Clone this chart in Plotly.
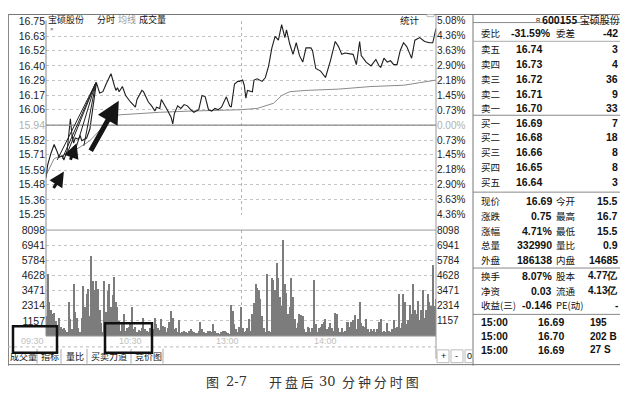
import plotly.graph_objects as go

OFF = 8  # default page body margin around the figure
W, H = 628 - 2 * OFF, 402 - 2 * OFF
pre_close = 15.94

# price axis (left) and percent axis (right)
price_ticks = [16.75, 16.63, 16.52, 16.40, 16.29, 16.17, 16.06, 15.94,
               15.82, 15.71, 15.59, 15.48, 15.36, 15.25]
pct_ticks = [5.08, 4.36, 3.63, 2.90, 2.18, 1.45, 0.73, 0.00,
             -0.73, -1.45, -2.18, -2.90, -3.63, -4.36]
vol_ticks = [1157, 2314, 3471, 4628, 5784, 6941, 8098]
time_minutes = [0, 60, 120, 180]
time_labels = ["09:30", "10:30", "13:00", "14:00"]

# minute line (minute index, price)
price_min = [0, 1, 3, 5, 7, 8, 10, 11, 13, 15, 16, 17, 18, 20, 21, 22, 25, 27, 29, 31,
             33, 35, 37, 40, 42, 43, 44, 45, 47, 49, 52, 55, 56, 59, 60, 62, 63, 65, 67, 68,
             70, 71, 73, 75, 77, 78, 79, 81, 83, 85, 87, 89, 91, 94, 96, 98, 100, 102, 104, 106,
             108, 111, 113, 114, 116, 118, 119, 121, 122, 123, 124, 127, 128, 130, 133, 135, 137, 139, 141, 143,
             145, 147, 148, 150, 152, 154, 156, 158, 160, 163, 164, 166, 169, 171, 172, 175, 178, 180, 182, 184,
             189, 191, 193, 194, 197, 200, 202, 203, 205, 206, 208, 210, 212, 214, 216, 218, 220, 222, 224, 225,
             227, 230, 233, 236, 238, 240]
price_val = [15.53, 15.63, 15.72, 15.79, 15.73, 15.69, 15.70, 15.67, 15.74, 15.99, 15.86, 15.80, 15.84, 15.83, 15.86, 15.82, 15.84, 15.91, 16.09, 16.27,
             16.19, 16.20, 16.26, 16.34, 16.25, 16.21, 16.23, 16.20, 16.24, 16.17, 16.12, 16.08, 16.14, 16.21, 16.20, 16.14, 16.12, 16.09, 16.05, 16.08,
             16.07, 16.14, 16.10, 16.05, 16.00, 15.95, 16.03, 16.09, 16.07, 16.10, 16.09, 16.06, 16.04, 16.06, 16.17, 16.16, 16.06, 16.05, 16.07, 16.06,
             16.08, 16.16, 16.09, 16.08, 16.26, 16.28, 16.28, 16.29, 16.25, 16.15, 16.21, 16.20, 16.29, 16.30, 16.28, 16.31, 16.40, 16.54, 16.63, 16.60,
             16.72, 16.62, 16.68, 16.57, 16.49, 16.58, 16.48, 16.43, 16.54, 16.54, 16.52, 16.38, 16.36, 16.33, 16.31, 16.44, 16.59, 16.55, 16.49, 16.50,
             16.49, 16.41, 16.59, 16.48, 16.43, 16.40, 16.44, 16.45, 16.40, 16.39, 16.46, 16.43, 16.44, 16.41, 16.41, 16.52, 16.58, 16.55, 16.49, 16.46,
             16.60, 16.62, 16.59, 16.58, 16.58, 16.69]

# average price line
avg_min = [0, 5, 15, 21, 27, 34, 40, 45, 55, 70, 90, 120, 130, 140, 145, 150, 160, 180, 200, 220, 230, 240]
avg_val = [15.55, 15.68, 15.73, 15.77, 15.82, 15.91, 15.99, 16.02, 16.03, 16.04, 16.05, 16.06, 16.07, 16.11, 16.17, 16.20, 16.21, 16.22, 16.24, 16.25, 16.27, 16.29]

# volume per minute
volume = [1500, 4700, 2600, 2000, 1700, 1750, 1150, 800, 1400, 700,
          500, 600, 450, 300, 2600, 1300, 500, 3950, 1800, 1400,
          600, 300, 1400, 3800, 2250, 3200, 3600, 1500, 6100, 4200,
          3500, 4200, 3600, 2000, 1000, 300, 4200, 1800, 3400, 3980,
          2250, 3100, 4520, 2570, 2250, 1150, 400, 900, 1690, 400,
          600, 700, 1100, 2250, 500, 700, 300, 450, 400, 600,
          1400, 500, 400, 300, 600, 700, 500, 1400, 900, 600,
          450, 1330, 800, 700, 300, 600, 1100, 1900, 1400, 500,
          600, 300, 1200, 250, 300, 400, 300, 200, 350, 500,
          400, 300, 250, 200, 400, 1100, 500, 300, 250, 200,
          350, 400, 300, 950, 400, 250, 200, 150, 300, 400,
          350, 300, 200, 150, 2330, 1900, 900, 500, 300, 700,
          2250, 600, 300, 400, 600, 1300, 400, 1690, 2500, 3960,
          3700, 3500, 2800, 1500, 600, 300, 4710, 400, 300, 4460,
          4290, 3500, 5600, 4460, 3000, 2300, 7370, 3960, 3300, 1690,
          2200, 4460, 3000, 1300, 600, 1000, 1690, 1600, 1500, 500,
          300, 700, 600, 300, 600, 4290, 900, 300, 600, 700,
          900, 1100, 1330, 500, 700, 1000, 600, 400, 1740, 1700,
          600, 300, 600, 300, 400, 1100, 1100, 700, 1100, 1200,
          1590, 500, 1300, 2570, 1000, 800, 700, 1330, 500, 300,
          500, 400, 500, 300, 500, 1100, 1300, 300, 400, 300,
          1000, 400, 300, 500, 1200, 600, 700, 3200, 600, 1000,
          3200, 2600, 900, 1200, 2330, 1690, 3960, 2000, 1690, 2700,
          1200, 2000, 3500, 1400, 2000, 3200, 2600, 2300, 5400, 2300,
          2800]

# hand drawn arrows on the chart: (tail minute, tail price, head minute, head price, width)
arrows = [(4.1, 15.44, 11, 15.58, 3), (14.7, 15.66, 18.8, 15.80, 3), (27, 15.73, 44.8, 16.13, 5)]
fan_from = [(6.9, 15.67), (10, 15.68), (13, 15.72), (18.4, 15.76), (23.3, 15.78)]
fan_to = (30.7, 16.27)

# quote panel
ask_labels = ["卖五", "卖四", "卖三", "卖二", "卖一"]
ask_prices = ["16.74", "16.73", "16.72", "16.71", "16.70"]
ask_vols = ["3", "4", "36", "9", "33"]
bid_labels = ["买一", "买二", "买三", "买四", "买五"]
bid_prices = ["16.69", "16.68", "16.66", "16.65", "16.64"]
bid_vols = ["7", "18", "8", "8", "3"]
stat_labels1 = ["现价", "涨跌", "涨幅", "总量", "外盘"]
stat_vals1 = ["16.69", "0.75", "4.71%", "332990", "186138"]
stat_labels2 = ["今开", "最高", "最低", "量比", "内盘"]
stat_vals2 = ["15.5", "16.7", "15.5", "0.9", "14685"]
fin_labels1 = ["换手", "净资", "收益(三)"]
fin_vals1 = ["8.07%", "0.03", "-0.146"]
fin_labels2 = ["股本", "流通", "PE(动)"]
fin_vals2 = ["4.77亿", "4.13亿", "-"]
tick_times = ["15:00", "15:00", "15:00"]
tick_prices = ["16.69", "16.70", "16.69"]
tick_vols = ["195", "202 B", "27 S"]
tabs = ["成交量", "指标", "量比", "买卖力道", "竞价图"]

NUM = "Liberation Sans, Arial, sans-serif"
CJK = "Noto Sans CJK SC, sans-serif"
RIGHT = 619  # right edge of the quote panel text


def fx(x):
    return (x - OFF) / W


def fy(y, floor=14.0):
    # target pixel rows, nudged to fit the page margin
    yy = max(1.0147 * y - 5.5, floor)
    return 1 - (yy - OFF) / H


fig = go.Figure()
fig.add_trace(go.Bar(x=list(range(len(volume))), y=volume, width=0.75,
                     marker=dict(color="#7c7c7c", line=dict(width=0)),
                     xaxis="x", yaxis="y2", showlegend=False, hoverinfo="skip"))
fig.add_trace(go.Scatter(x=avg_min, y=avg_val, mode="lines", line=dict(color="#8a8a8a", width=1),
                         xaxis="x", yaxis="y", showlegend=False, hoverinfo="skip"))
fig.add_trace(go.Scatter(x=price_min, y=price_val, mode="lines", line=dict(color="#1e1e1e", width=1.1),
                         xaxis="x", yaxis="y", showlegend=False, hoverinfo="skip"))

price_range = [15.244, 16.752]
pct_range = [(p / pre_close - 1) * 100 for p in price_range]

# dummy traces so the right-hand axes get drawn
fig.add_trace(go.Scatter(x=[0, 240], y=pct_range, mode="lines", line=dict(width=0), opacity=0,
                         xaxis="x", yaxis="y3", showlegend=False, hoverinfo="skip"))
fig.add_trace(go.Scatter(x=[0, 240], y=[0, 8098], mode="lines", line=dict(width=0), opacity=0,
                         xaxis="x", yaxis="y4", showlegend=False, hoverinfo="skip"))

x_dom = [fx(46), fx(436)]
price_dom = [fy(217), fy(20)]
vol_dom = [fy(340), fy(232.5)]

price_text = [f"{v:.2f}" if v != pre_close else f"<span style='color:#b0b0b0'>{v:.2f}</span>" for v in price_ticks]
pct_text = [f"{abs(v):.2f}%" if v != 0 else "<span style='color:#b0b0b0'>0.00%</span>" for v in pct_ticks]
tick_font = dict(family=NUM, size=10.5, color="#222")
grid = dict(gridcolor="#c4c4c4", griddash="dot", gridwidth=1, zeroline=False)

fig.update_layout(
    width=W, height=H, margin=dict(l=0, r=0, t=0, b=0),
    paper_bgcolor="white", plot_bgcolor="white", bargap=0,
    xaxis=dict(domain=x_dom, range=[0, 240], anchor="y2", showticklabels=False, ticks="",
               tickvals=[120], showgrid=True, gridcolor="#b5b5b5", griddash="dot", zeroline=False),
    yaxis=dict(domain=price_dom, range=price_range,
               tickvals=price_ticks, ticktext=price_text, tickfont=tick_font, anchor="x", ticks="", **grid),
    yaxis3=dict(overlaying="y", side="right", range=pct_range, tickvals=pct_ticks, ticktext=pct_text,
                tickfont=dict(family=NUM, size=10, color="#222"), anchor="x", showgrid=False, zeroline=False, ticks=""),
    yaxis2=dict(domain=vol_dom, range=[0, 8098], tickvals=vol_ticks, ticktext=[str(v) for v in vol_ticks],
                tickfont=tick_font, anchor="x", ticks="", **grid),
    yaxis4=dict(overlaying="y2", side="right", range=[0, 8098], tickvals=vol_ticks,
                ticktext=[str(v) for v in vol_ticks], tickfont=dict(family=NUM, size=10, color="#222"),
                anchor="x", showgrid=False, zeroline=False, ticks=""),
)

shapes = []
anns = []


def hline(y, x0, x1, color="#999", width=1, dash="solid"):
    shapes.append(dict(type="line", xref="paper", yref="paper", x0=fx(x0), x1=fx(x1),
                       y0=fy(y, 8.5), y1=fy(y, 8.5), line=dict(color=color, width=width, dash=dash)))


def vline(x, y0, y1, color="#999", width=1):
    shapes.append(dict(type="line", xref="paper", yref="paper", x0=fx(x), x1=fx(x),
                       y0=fy(y0, 8.5), y1=fy(y1, 8.5), line=dict(color=color, width=width)))


def box(x0, y0, x1, y1, color="#111", width=2.5):
    shapes.append(dict(type="rect", xref="paper", yref="paper", x0=fx(x0), x1=fx(x1),
                       y0=fy(y1, 8.5), y1=fy(y0, 8.5), line=dict(color=color, width=width)))


def txt(s, x, y, size=10, anchor="left", color="#111", family=CJK):
    anns.append(dict(text=s, x=fx(x), y=fy(y), xref="paper", yref="paper", xanchor=anchor,
                     yanchor="middle", showarrow=False, borderpad=0,
                     font=dict(size=size, color=color, family=family)))


# window frame and chart borders
hline(5, 8, 620, "#777")
vline(8.5, 5, 370, "#888")
vline(46, 20, 340, "#888")
vline(436, 5, 363, "#999")
vline(473, 5, 370, "#777")
hline(232.5, 46, 436, "#999")
hline(340, 46, 436, "#999")
hline(351, 8, 436, "#bbb", dash="dot")
hline(369, 8, 620, "#777")
shapes.append(dict(type="line", xref="paper", yref="y", x0=x_dom[0], x1=x_dom[1], y0=pre_close, y1=pre_close,
                   line=dict(color="#8a8a8a", width=1.2)))

# header of the chart
txt("宝硕股份", 47, 13, 9)
txt("分时", 96, 13, 9)
txt("均线", 117, 13, 9, color="#999")
txt("成交量", 138, 13, 9)
txt("统计", 399, 13, 9.5)
box(427, 9, 434, 16, "#bbb", 1)
txt("×", 49, 29, 6, color="#555", family=NUM)

# time labels
for m, lab in zip(time_minutes, time_labels):
    anns.append(dict(text=lab, x=m, y=fy(345), xref="x", yref="paper", xanchor="right", yanchor="middle",
                     showarrow=False, font=dict(size=9, color="#c0c0c0", family=NUM)))

# tabs
tab_x = [9, 40, 65, 90, 134]
for t, tx in zip(tabs, tab_x):
    txt(t, tx, 361, 9)
for sx in [37, 61, 87, 131, 163]:
    vline(sx, 353, 368, "#aaa")
box(437, 354, 449, 367, "#bbb", 1)
box(451, 354, 463, 367, "#bbb", 1)
box(465, 354, 473, 367, "#bbb", 1)
txt("+", 443, 360, 9, "center", family=NUM)
txt("-", 457, 360, 9, "center", family=NUM)
txt("0", 469, 360, 9, "center", family=NUM)

# highlight boxes
box(13, 330, 57, 357)
box(105, 327, 152, 357)

# arrows
for tx_, ty_, hx, hy, w in arrows:
    anns.append(dict(x=hx, y=hy, ax=tx_, ay=ty_, xref="x", yref="y", axref="x", ayref="y", text="",
                     showarrow=True, arrowhead=2, arrowsize=1.0 if w < 4 else 0.9, arrowwidth=w,
                     arrowcolor="#151515"))
for x0, y0 in fan_from:
    shapes.append(dict(type="line", xref="x", yref="y", x0=x0, y0=y0, x1=fan_to[0], y1=fan_to[1],
                       line=dict(color="#222", width=1)))

# quote panel
txt("R", 535, 10, 6, family=NUM)
txt("<b>600155</b> 宝硕股份", 541, 14, 10)
hline(22, 473, 620, "#888")
txt("委比", 480, 33, 9.5)
txt("<b>-31.59%</b>", 510, 33, 10.5, family=NUM)
txt("委差", 555, 33, 9.5)
txt("<b>-42</b>", RIGHT, 33, 10.5, "right", family=NUM)
hline(41, 473, 620, "#aaa")
for i in range(5):
    y = 49 + 15 * i
    txt(ask_labels[i], 480, y, 9.5)
    txt(f"<b>{ask_prices[i]}</b>", 515, y, 10.5, family=NUM)
    txt(f"<b>{ask_vols[i]}</b>", RIGHT, y, 10.5, "right", family=NUM)
hline(116, 473, 620, "#888")
for i in range(5):
    y = 123.5 + 15 * i
    txt(bid_labels[i], 480, y, 9.5)
    txt(f"<b>{bid_prices[i]}</b>", 515, y, 10.5, family=NUM)
    txt(f"<b>{bid_vols[i]}</b>", RIGHT, y, 10.5, "right", family=NUM)
hline(194, 473, 620, "#888")
for i in range(5):
    y = 203 + 15 * i
    txt(stat_labels1[i], 480, y, 9.5)
    txt(f"<b>{stat_vals1[i]}</b>", 553, y, 10.5, "right", family=NUM)
    txt(stat_labels2[i], 555, y, 9.5)
    txt(f"<b>{stat_vals2[i]}</b>", RIGHT, y, 10.5, "right", family=NUM)
hline(271, 473, 620, "#888")
for i in range(3):
    y = 279 + 15 * i
    txt(fin_labels1[i], 480, y, 9.5)
    txt(f"<b>{fin_vals1[i]}</b>", 553, y, 10.5, "right", family=NUM)
    txt(fin_labels2[i], 555, y, 9.5)
    txt(f"<b>{fin_vals2[i]}</b>", RIGHT, y, 10, "right", family=NUM)
hline(318, 473, 620, "#888")
for i in range(3):
    y = 326 + 14 * i
    txt(f"<b>{tick_times[i]}</b>", 480, y, 10.5, family=NUM)
    txt(f"<b>{tick_prices[i]}</b>", 537, y, 10.5, family=NUM)
    txt(f"<b>{tick_vols[i]}</b>", 589, y, 10, family=NUM)

# caption
txt("图", 205, 386, 13, color="#333")
txt("2-7", 225, 386, 13, color="#333", family="DejaVu Serif, serif")
txt("开 盘 后", 268, 386, 13, color="#333")
txt("30", 318, 386, 13, color="#333", family="DejaVu Serif, serif")
txt("分 钟 分 时 图", 341, 386, 13, color="#333")

fig.update_layout(shapes=shapes, annotations=anns)
fig.write_html("out.html")
